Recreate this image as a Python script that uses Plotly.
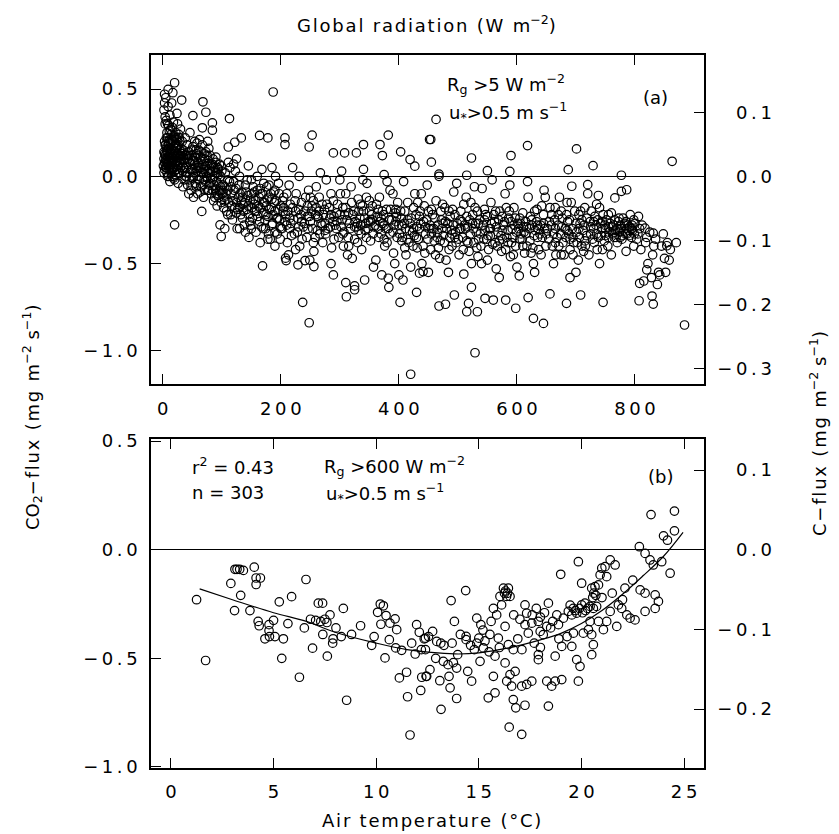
import plotly.graph_objects as go

# ---------------- DATA ----------------
# Panel (a): global radiation (W m-2) vs CO2 flux (mg m-2 s-1), grouped by radiation range
seg_0_30 = [
    (3, 0.08), (4, 0.12), (5, 0.05), (5, 0.18), (6, 0.1), (6, 0.32), (7, 0.02), (7, 0.14), (8, 0.22), (8, 0.07),
    (9, 0.4), (9, 0.11), (10, 0.16), (10, 0.0), (11, 0.26), (11, 0.09), (12, 0.13), (12, 0.35), (13, 0.06), (13, 0.19),
    (14, 0.24), (14, 0.1), (15, 0.03), (15, 0.15), (16, 0.28), (16, 0.08), (17, 0.12), (17, 0.2), (18, 0.05), (18, 0.17),
    (19, 0.23), (19, 0.1), (20, 0.14), (20, -0.02), (21, 0.19), (21, 0.07), (22, 0.25), (22, 0.12), (23, 0.04), (23, 0.16),
    (24, 0.21), (24, 0.09), (25, 0.13), (25, 0.3), (26, 0.06), (26, 0.18), (27, 0.1), (27, 0.24), (28, 0.02), (28, 0.15),
    (29, 0.2), (29, 0.08), (30, 0.12), (30, 0.27), (2, 0.1), (2, 0.14), (3, 0.2), (3, 0.04), (4, 0.3), (4, 0.07),
    (2, 0.38), (3, 0.42), (4, 0.34), (5, 0.45), (6, 0.22), (8, 0.3), (10, 0.29), (12, 0.05), (15, 0.42), (18, 0.31),
    (24, 0.36), (12, -0.03), (20, 0.03), (7, 0.08), (9, 0.06), (11, 0.12), (13, 0.1), (14, 0.02), (16, 0.0), (18, -0.01),
    (22, 0.01), (26, -0.04), (28, 0.08), (6, 0.05), (8, 0.15), (3, 0.13), (5, 0.09), (7, 0.17), (9, 0.2), (11, 0.04),
    (13, 0.27), (15, 0.08), (17, 0.04), (19, 0.15), (21, 0.11), (23, 0.22), (25, 0.06), (27, 0.02), (29, 0.12),
    (1, 0.06), (2, 0.02), (4, 0.18), (6, 0.15), (8, 0.0), (10, 0.08), (12, 0.21), (14, 0.16), (16, 0.13), (18, 0.09),
    (20, 0.22), (22, 0.18), (24, 0.04), (26, 0.12), (28, 0.22), (30, 0.05), (5, 0.12), (7, 0.25), (10, 0.19), (13, 0.14),
    (16, 0.21), (19, 0.05), (22, 0.08), (25, 0.17), (28, 0.11),
]
seg_30_100 = [
    (32, 0.1), (33, 0.2), (34, 0.03), (35, 0.15), (36, -0.02), (37, 0.08), (38, 0.22), (39, 0.12), (40, 0.05), (41, 0.18),
    (42, -0.05), (43, 0.1), (44, 0.14), (45, 0.02), (46, 0.25), (47, 0.07), (48, -0.08), (49, 0.12), (50, 0.04), (51, 0.17),
    (52, 0.0), (53, 0.09), (54, 0.2), (55, -0.04), (56, 0.06), (57, 0.13), (58, 0.03), (59, -0.1), (60, 0.08), (61, 0.15),
    (62, -0.02), (63, 0.05), (64, 0.11), (65, -0.06), (66, 0.02), (67, 0.18), (68, 0.07), (69, -0.12), (70, 0.04), (71, 0.1),
    (72, -0.03), (73, 0.14), (74, 0.0), (75, 0.06), (76, -0.08), (77, 0.09), (78, 0.02), (79, -0.05), (80, 0.12), (81, 0.03),
    (82, -0.1), (83, 0.06), (84, -0.02), (85, 0.1), (86, -0.14), (87, 0.0), (88, 0.05), (89, -0.07), (90, 0.08), (91, -0.03),
    (92, 0.02), (93, -0.11), (94, 0.04), (95, -0.05), (96, 0.07), (97, -0.09), (98, 0.0), (99, -0.15), (100, 0.03),
    (35, 0.05), (40, 0.12), (45, -0.02), (50, 0.09), (55, 0.11), (60, 0.0), (65, 0.05), (70, 0.13), (75, -0.01), (80, -0.04),
    (85, 0.03), (90, -0.1), (95, 0.01), (38, 0.0), (48, 0.15), (58, 0.19), (68, -0.05), (78, 0.16), (88, -0.12), (98, -0.06),
    (33, 0.13), (36, 0.09), (39, 0.02), (42, 0.12), (45, 0.08), (48, 0.04), (51, -0.01), (54, 0.07), (57, -0.06), (60, 0.12),
    (63, -0.09), (66, 0.1), (69, 0.02), (72, 0.06), (75, 0.12), (78, -0.08), (81, -0.01), (84, 0.07), (87, -0.05), (90, 0.02),
    (93, 0.05), (96, -0.08), (99, 0.06), (44, -0.1), (62, 0.21), (52, -0.12), (76, 0.2), (92, -0.17), (34, -0.06), (56, 0.15),
    (71, -0.08), (31, 0.16), (35, 0.1), (40, 0.0), (45, 0.12), (50, -0.05), (55, 0.02), (60, 0.05), (65, 0.14), (70, -0.02),
    (75, 0.03), (80, 0.07), (85, -0.08), (90, 0.11), (95, -0.12), (100, -0.08),
]
seg_100_200 = [
    (102, -0.05), (104, -0.12), (106, 0.02), (108, -0.2), (110, -0.08), (112, -0.15), (114, 0.05), (116, -0.1), (118, -0.25),
    (120, -0.03), (122, -0.18), (124, -0.07), (126, -0.3), (128, -0.12), (130, 0.0), (132, -0.22), (134, -0.09), (136, -0.16),
    (138, -0.28), (140, -0.05), (142, -0.19), (144, -0.11), (146, -0.35), (148, -0.14), (150, -0.02), (152, -0.24), (154, -0.13),
    (156, -0.2), (158, -0.32), (160, -0.08), (162, -0.17), (164, -0.26), (166, -0.1), (168, 0.04), (170, -0.21), (172, -0.15),
    (174, -0.3), (176, -0.06), (178, -0.23), (180, -0.12), (182, -0.36), (184, -0.18), (186, -0.27), (188, -0.09), (190, -0.2),
    (192, -0.14), (194, -0.33), (196, -0.04), (198, -0.25), (200, -0.17), (103, -0.18), (107, -0.1), (111, 0.08), (115, -0.22),
    (119, -0.14), (123, 0.03), (127, -0.19), (131, -0.1), (135, -0.24), (139, -0.15), (143, -0.02), (147, -0.26), (151, -0.18),
    (155, -0.09), (159, -0.2), (163, -0.12), (167, -0.29), (171, -0.04), (175, -0.17), (179, -0.33), (183, -0.1), (187, -0.22),
    (191, 0.0), (195, -0.19), (199, -0.29), (105, -0.3), (125, 0.1), (145, 0.06), (165, -0.38), (185, 0.05),
    (101, -0.1), (105, -0.06), (109, -0.13), (113, -0.03), (117, -0.17), (121, -0.08), (125, -0.21), (129, -0.05),
    (133, -0.14), (137, -0.2), (141, -0.09), (145, -0.17), (149, -0.28), (153, -0.06), (157, -0.14), (161, -0.23),
    (165, -0.18), (169, -0.1), (173, -0.25), (177, -0.13), (181, -0.19), (185, -0.28), (189, -0.15), (193, -0.24),
    (197, -0.1), (110, -0.22), (130, -0.3), (150, -0.1), (170, -0.3), (190, -0.32), (120, 0.07), (140, -0.32), (160, 0.0),
    (180, -0.05), (200, -0.3), (105, -0.14), (115, -0.06), (125, -0.15), (135, -0.12), (145, -0.22), (155, -0.16),
    (165, -0.07), (175, -0.22), (185, -0.13), (195, -0.24), (110, -0.02), (130, -0.18), (150, -0.3), (170, -0.15),
    (190, -0.08),
]
seg_200_400 = [
    (202, -0.3), (205, -0.12), (208, -0.22), (211, -0.38), (214, -0.05), (217, -0.27), (220, -0.18), (223, -0.33), (226, -0.1),
    (229, -0.24), (232, -0.4), (235, -0.15), (238, -0.29), (241, -0.2), (244, -0.35), (247, -0.08), (250, -0.26), (253, -0.17),
    (256, -0.43), (259, -0.22), (262, -0.31), (265, -0.12), (268, -0.27), (271, -0.38), (274, -0.19), (277, -0.02), (280, -0.3),
    (283, -0.24), (286, -0.41), (289, -0.14), (292, -0.28), (295, -0.21), (298, -0.35), (301, -0.1), (304, -0.25), (307, -0.32),
    (310, -0.18), (313, -0.45), (316, -0.27), (319, -0.06), (322, -0.22), (325, -0.36), (328, -0.29), (331, -0.13), (334, -0.24),
    (337, -0.42), (340, -0.2), (343, -0.31), (346, -0.04), (349, -0.26), (352, -0.37), (355, -0.17), (358, -0.29), (361, -0.48),
    (364, -0.23), (367, -0.12), (370, -0.33), (373, -0.27), (376, -0.4), (379, -0.19), (382, -0.3), (385, -0.08), (388, -0.25),
    (391, -0.44), (394, -0.21), (397, -0.35), (400, -0.28), (204, -0.2), (210, -0.28), (216, -0.16), (222, -0.25), (228, -0.32),
    (234, -0.22), (240, -0.27), (246, -0.3), (252, -0.2), (258, -0.35), (264, -0.24), (270, -0.28), (276, -0.33), (282, -0.18),
    (288, -0.26), (294, -0.3), (300, -0.22), (306, -0.4), (312, -0.25), (318, -0.3), (324, -0.2), (330, -0.27), (336, -0.33),
    (342, -0.24), (348, -0.3), (354, -0.22), (360, -0.28), (366, -0.35), (372, -0.2), (378, -0.3), (384, -0.25), (390, -0.32),
    (396, -0.23), (213, -0.45), (231, 0.0), (249, -0.48), (267, 0.02), (285, -0.5), (303, 0.03), (321, -0.47), (339, -0.02),
    (357, -0.52), (375, 0.01), (393, -0.5), (260, -0.06), (300, -0.02), (340, 0.04), (380, -0.03), (220, 0.05),
    (203, -0.14), (207, -0.26), (212, -0.2), (218, -0.34), (224, -0.14), (230, -0.19), (236, -0.36), (242, -0.12),
    (248, -0.23), (254, -0.3), (260, -0.18), (266, -0.33), (272, -0.22), (278, -0.16), (284, -0.29), (290, -0.36),
    (296, -0.16), (302, -0.29), (308, -0.22), (314, -0.35), (320, -0.15), (326, -0.26), (332, -0.31), (338, -0.17),
    (344, -0.27), (350, -0.2), (356, -0.33), (362, -0.16), (368, -0.26), (374, -0.22), (380, -0.38), (386, -0.19),
    (392, -0.28), (398, -0.15), (215, -0.24), (245, -0.17), (275, -0.27), (305, -0.18), (335, -0.28), (365, -0.3),
    (395, -0.26), (225, -0.42), (255, -0.38), (285, -0.1), (315, -0.4), (345, -0.12), (375, -0.36), (262, -0.23),
    (332, -0.2), (352, -0.26), (205, -0.18), (215, -0.3), (225, -0.2), (235, -0.26), (245, -0.23), (255, -0.14),
    (265, -0.2), (275, -0.31), (285, -0.22), (295, -0.26), (305, -0.33), (315, -0.21), (325, -0.29), (335, -0.16),
    (345, -0.35), (355, -0.25), (365, -0.19), (375, -0.28), (385, -0.33), (395, -0.19), (210, -0.1), (230, -0.29),
    (250, -0.12), (270, -0.16), (290, -0.23), (310, -0.1), (330, -0.38), (350, -0.14), (370, -0.24), (390, -0.1),
]
seg_400_650 = [
    (403, -0.2), (406, -0.35), (409, -0.27), (412, -0.45), (415, -0.15), (418, -0.31), (421, -0.24), (424, -0.4), (427, -0.1),
    (430, -0.29), (433, -0.36), (436, -0.2), (439, -0.5), (442, -0.26), (445, -0.33), (448, -0.05), (451, -0.3), (454, -0.42),
    (457, -0.22), (460, -0.37), (463, -0.14), (466, -0.28), (469, -0.47), (472, -0.25), (475, -0.34), (478, -0.18), (481, -0.3),
    (484, -0.55), (487, -0.23), (490, -0.4), (493, -0.09), (496, -0.32), (499, -0.27), (502, -0.45), (505, -0.2), (508, -0.35),
    (511, -0.28), (514, -0.12), (517, -0.38), (520, -0.25), (523, -0.5), (526, -0.3), (529, -0.18), (532, -0.41), (535, -0.27),
    (538, -0.33), (541, -0.07), (544, -0.36), (547, -0.22), (550, -0.48), (553, -0.3), (556, -0.15), (559, -0.39), (562, -0.26),
    (565, -0.53), (568, -0.32), (571, -0.2), (574, -0.43), (577, -0.28), (580, -0.1), (583, -0.35), (586, -0.24), (589, -0.46),
    (592, -0.3), (595, -0.18), (598, -0.4), (601, -0.27), (604, -0.57), (607, -0.33), (610, -0.21), (613, -0.44), (616, -0.29),
    (619, -0.12), (622, -0.37), (625, -0.25), (628, -0.5), (631, -0.31), (634, -0.19), (637, -0.42), (640, -0.28), (643, -0.35),
    (646, -0.08), (649, -0.4), (405, -0.28), (411, -0.3), (417, -0.38), (423, -0.32), (429, -0.22), (435, -0.3), (441, -0.4),
    (447, -0.25), (453, -0.28), (459, -0.3), (465, -0.35), (471, -0.2), (477, -0.38), (483, -0.27), (489, -0.31), (495, -0.22),
    (501, -0.36), (507, -0.26), (513, -0.3), (519, -0.43), (525, -0.22), (531, -0.32), (537, -0.25), (543, -0.28), (549, -0.36),
    (555, -0.3), (561, -0.22), (567, -0.4), (573, -0.34), (579, -0.26), (585, -0.31), (591, -0.38), (597, -0.24), (603, -0.3),
    (609, -0.36), (615, -0.26), (621, -0.3), (627, -0.41), (633, -0.26), (639, -0.33), (645, -0.22), (408, -0.03), (438, -0.1),
    (468, 0.0), (498, -0.04), (528, -0.06), (558, -0.02), (588, -0.05), (618, -0.03), (648, -0.12), (420, -0.52), (450, -0.55),
    (480, -0.48), (510, -0.56), (540, -0.5), (570, -0.58), (600, -0.52), (630, -0.55), (426, -0.34), (456, -0.3), (486, -0.35),
    (516, -0.29), (546, -0.31), (576, -0.36), (606, -0.27), (636, -0.3),
    (401, -0.33), (404, -0.24), (410, -0.2), (414, -0.36), (419, -0.27), (425, -0.18), (431, -0.41), (437, -0.27),
    (443, -0.17), (449, -0.36), (455, -0.33), (461, -0.24), (467, -0.41), (473, -0.3), (479, -0.26), (485, -0.42),
    (491, -0.19), (497, -0.38), (503, -0.3), (509, -0.42), (515, -0.23), (521, -0.33), (527, -0.38), (533, -0.2),
    (539, -0.4), (545, -0.25), (551, -0.34), (557, -0.27), (563, -0.38), (569, -0.25), (575, -0.31), (581, -0.42),
    (587, -0.2), (593, -0.35), (599, -0.32), (605, -0.24), (611, -0.29), (617, -0.4), (623, -0.23), (629, -0.34),
    (635, -0.28), (641, -0.45), (647, -0.3), (432, -0.15), (462, -0.45), (492, -0.28), (522, -0.15), (552, -0.42),
    (582, -0.18), (612, -0.32), (642, -0.17), (444, -0.44), (474, -0.16), (504, -0.25), (534, -0.46), (564, -0.2),
    (594, -0.45), (624, -0.44), (405, -0.37), (415, -0.25), (425, -0.3), (435, -0.23), (445, -0.29), (455, -0.19),
    (465, -0.32), (475, -0.27), (485, -0.2), (495, -0.35), (505, -0.3), (515, -0.37), (525, -0.27), (535, -0.36),
    (545, -0.19), (555, -0.34), (565, -0.29), (575, -0.23), (585, -0.38), (595, -0.28), (605, -0.36), (615, -0.33),
    (625, -0.28), (635, -0.35), (645, -0.27), (410, -0.41), (430, -0.35), (450, -0.2), (470, -0.37), (490, -0.33),
    (510, -0.16), (530, -0.27), (550, -0.23), (570, -0.37), (590, -0.26), (610, -0.4), (630, -0.2), (650, -0.33),
]
seg_650_900 = [
    (652, -0.3), (656, -0.18), (660, -0.4), (664, -0.25), (668, -0.35), (672, -0.12), (676, -0.29), (680, -0.45), (684, -0.22),
    (688, -0.33), (692, -0.15), (696, -0.38), (700, -0.27), (704, -0.48), (708, -0.2), (712, -0.31), (716, -0.4), (720, -0.1),
    (724, -0.26), (728, -0.36), (732, -0.23), (736, -0.42), (740, -0.18), (744, -0.3), (748, -0.37), (752, -0.25), (756, -0.32),
    (760, -0.21), (764, -0.28), (768, -0.35), (772, -0.26), (776, -0.3), (780, -0.24), (784, -0.33), (788, -0.28), (792, -0.22),
    (796, -0.31), (800, -0.27), (658, -0.28), (666, -0.45), (674, -0.33), (682, -0.3), (690, -0.42), (698, -0.2), (706, -0.35),
    (714, -0.28), (722, -0.45), (730, -0.3), (738, -0.35), (746, -0.22), (754, -0.4), (762, -0.33), (770, -0.3), (778, -0.36),
    (786, -0.3), (794, -0.35), (798, -0.25), (766, -0.25), (774, -0.32), (782, -0.28), (790, -0.34), (758, -0.27), (750, -0.3),
    (742, -0.27), (726, -0.2), (710, -0.25), (694, -0.3), (678, -0.38), (662, -0.33), (670, -0.22), (686, -0.26), (702, -0.38),
    (718, -0.34), (734, -0.28), (662, -0.5), (700, -0.55), (740, -0.5), (690, -0.58), (760, -0.45), (785, -0.43), (798, -0.4),
    (805, -0.33), (810, -0.42), (812, -0.28), (818, -0.38), (822, -0.5), (825, -0.32), (830, -0.45), (835, -0.36), (840, -0.55),
    (845, -0.4), (850, -0.47), (855, -0.38), (860, -0.42), (870, -0.38), (815, -0.6), (828, -0.58), (838, -0.62),
    (654, -0.36), (659, -0.22), (665, -0.3), (671, -0.4), (677, -0.24), (683, -0.35), (689, -0.25), (695, -0.45),
    (701, -0.32), (707, -0.27), (713, -0.43), (719, -0.24), (725, -0.33), (731, -0.38), (737, -0.25), (743, -0.34),
    (749, -0.28), (755, -0.35), (761, -0.29), (767, -0.31), (773, -0.24), (779, -0.34), (783, -0.27), (787, -0.33),
    (791, -0.29), (795, -0.28), (799, -0.33), (775, -0.28), (765, -0.35), (755, -0.22), (745, -0.42), (735, -0.16),
    (715, -0.18), (705, -0.22), (685, -0.15), (675, -0.45), (665, -0.18), (803, -0.36), (808, -0.3), (820, -0.35),
    (832, -0.4), (848, -0.33), (858, -0.48), (852, -0.55), (655, -0.26), (665, -0.38), (675, -0.2), (685, -0.31),
    (695, -0.35), (705, -0.3), (715, -0.37), (725, -0.29), (735, -0.33), (745, -0.26), (755, -0.29), (765, -0.32),
    (775, -0.35), (785, -0.26), (795, -0.3), (670, -0.28), (690, -0.36), (710, -0.4), (730, -0.26), (750, -0.34),
    (770, -0.38), (790, -0.31),
]
outliers_a = [
    (20, 0.536), (9, 0.498), (17, 0.479), (3, 0.47), (32, 0.437), (68, 0.427), (187, 0.483), (73, 0.367), (51, 0.348),
    (113, 0.331), (84, 0.306), (84, 0.264), (67, 0.278), (133, 0.22), (122, 0.195), (111, 0.168), (164, 0.234), (178, 0.22),
    (207, 0.22), (253, 0.236), (248, 0.168), (207, 0.182), (289, 0.134), (308, 0.134), (328, 0.134), (340, 0.182), (368, 0.182),
    (382, 0.236), (372, 0.119), (403, 0.14), (419, 0.096), (427, 0.058), (452, 0.211), (20, -0.278), (66, -0.201), (97, -0.278),
    (99, -0.345), (169, -0.513), (208, -0.469), (209, -0.483), (229, -0.507), (241, -0.483), (256, -0.517), (190, -0.4),
    (199, -0.36), (178, -0.36), (237, -0.722), (248, -0.839), (289, -0.565), (310, -0.609), (325, -0.628), (311, -0.69),
    (325, -0.65), (342, -0.594), (371, -0.565), (382, -0.584), (383, -0.636), (400, -0.565), (407, -0.594), (402, -0.722),
    (430, -0.665), (420, -1.134), (435, -0.555), (441, -0.546), (463, 0.326), (454, 0.211), (455, 0.081), (523, 0.105),
    (590, 0.119), (618, 0.176), (701, 0.157), (729, 0.061), (687, 0.038), (863, 0.086), (550, 0.032), (588, 0.028),
    (515, 0.006), (468, 0.012), (777, 0.006), (720, -0.048), (693, -0.057), (786, -0.077), (777, -0.086), (766, -0.124),
    (738, -0.11), (806, -0.23), (645, -0.843), (628, -0.814), (529, -1.011), (884, -0.852), (468, -0.743), (479, -0.733),
    (518, -0.728), (515, -0.776), (533, -0.776), (494, -0.68), (523, -0.636), (546, -0.699), (560, -0.709), (581, -0.709),
    (598, -0.756), (619, -0.695), (656, -0.674), (684, -0.728), (708, -0.68), (746, -0.722), (807, -0.713), (831, -0.732),
    (829, -0.686), (842, -0.565), (854, -0.398), (831, -0.326), (817, -0.297), (820, -0.536), (808, -0.613),
]

# Panel (b): air temperature (degC) vs CO2 flux, Rg > 600 W m-2
panel_b_points = [
    (1.25, -0.23), (1.69, -0.51), (3.12, -0.09), (3.22, -0.09), (3.35, -0.09), (3.53, -0.095), (2.92, -0.155), (4.06, -0.08),
    (4.15, -0.13), (4.36, -0.13), (4.15, -0.16), (3.4, -0.21), (3.1, -0.28), (3.85, -0.28), (4.25, -0.33), (4.3, -0.35),
    (4.78, -0.345), (4.78, -0.373), (5.0, -0.325), (4.8, -0.40), (4.58, -0.41), (5.07, -0.40), (5.48, -0.41), (5.4, -0.50),
    (5.28, -0.24), (5.88, -0.216), (6.58, -0.137), (6.26, -0.587), (6.9, -0.453), (7.18, -0.246), (7.39, -0.246), (6.8, -0.32),
    (7.05, -0.325), (7.3, -0.33), (7.5, -0.32), (7.75, -0.30), (7.6, -0.335), (7.4, -0.39), (7.9, -0.41), (7.88, -0.43),
    (7.62, -0.49), (8.04, -0.36), (8.4, -0.27), (8.56, -0.693), (8.8, -0.39), (9.24, -0.35), (9.78, -0.44), (10.35, -0.258),
    (10.07, -0.288), (10.48, -0.303), (10.23, -0.343), (10.92, -0.318), (10.67, -0.338), (11.0, -0.368), (10.64, -0.414),
    (10.95, -0.452), (10.43, -0.498), (11.24, -0.463), (11.97, -0.345), (11.73, -0.43), (11.48, -0.564), (11.13, -0.59),
    (12.22, -0.587), (12.43, -0.583), (12.17, -0.648), (11.53, -0.677), (11.65, -0.853), (12.34, -0.41), (12.2, -0.46),
    (12.4, -0.407), (12.55, -0.40), (12.75, -0.376), (12.95, -0.422), (13.15, -0.43), (12.4, -0.46), (12.62, -0.552),
    (12.46, -0.583), (13.1, -0.603), (13.55, -0.583), (13.6, -0.636), (13.92, -0.685), (13.16, -0.735), (13.27, -0.514),
    (13.5, -0.529), (13.76, -0.52), (13.92, -0.545), (13.97, -0.483), (13.65, -0.234), (13.81, -0.33), (14.36, -0.188),
    (14.38, -0.399), (14.38, -0.414), (14.78, -0.46), (14.9, -0.315), (15.1, -0.345), (15.0, -0.407), (15.06, -0.514),
    (15.22, -0.452), (14.65, -0.605), (14.46, -0.56), (15.46, -0.682), (15.79, -0.659), (15.71, -0.583), (15.79, -0.49),
    (15.54, -0.39), (15.71, -0.27), (15.87, -0.30), (16.03, -0.215), (16.2, -0.177), (16.44, -0.177), (16.52, -0.215),
    (16.11, -0.254), (15.95, -0.407), (16.28, -0.353), (16.44, -0.437), (16.68, -0.46), (16.28, -0.521), (16.36, -0.605),
    (16.52, -0.575), (16.6, -0.628), (16.77, -0.56), (16.68, -0.69), (16.8, -0.728), (16.48, -0.817), (17.09, -0.85),
    (17.25, -0.716), (17.09, -0.628), (17.33, -0.62), (17.58, -0.605), (17.25, -0.254), (17.33, -0.292), (17.25, -0.345),
    (17.41, -0.384), (17.58, -0.338), (17.9, -0.33), (17.99, -0.376), (18.14, -0.391), (18.31, -0.353), (18.39, -0.246),
    (17.9, -0.483), (17.9, -0.506), (18.31, -0.605), (18.55, -0.628), (18.72, -0.605), (19.04, -0.598), (18.39, -0.72),
    (18.72, -0.49), (19.04, -0.445), (18.88, -0.345), (18.8, -0.30), (19.12, -0.315), (19.36, -0.284), (19.53, -0.30),
    (19.77, -0.292), (19.61, -0.384), (19.53, -0.445), (19.77, -0.506), (19.93, -0.537), (19.85, -0.605), (20.09, -0.384),
    (20.01, -0.254), (20.17, -0.246), (20.42, -0.261), (20.58, -0.27), (20.74, -0.261), (19.85, -0.055), (20.01, -0.154),
    (20.5, -0.177), (20.66, -0.17), (20.83, -0.162), (20.91, -0.116), (20.99, -0.085), (21.15, -0.078), (21.4, -0.047),
    (21.64, -0.07), (21.23, -0.124), (20.42, -0.33), (20.34, -0.368), (20.5, -0.391), (20.58, -0.437), (20.5, -0.483),
    (20.83, -0.33), (21.07, -0.368), (21.23, -0.33), (21.4, -0.284), (21.72, -0.353), (21.8, -0.254), (21.96, -0.27),
    (22.21, -0.3), (22.37, -0.315), (22.61, -0.323), (22.12, -0.177), (22.86, -0.185), (23.1, -0.2), (23.59, -0.208),
    (23.75, -0.238), (23.59, -0.27), (23.1, -0.284), (22.82, 0.014), (23.1, -0.017), (23.34, -0.047), (23.5, -0.07),
    (23.91, -0.055), (24.32, -0.108), (24.0, 0.064), (24.19, 0.044), (24.53, 0.087), (23.39, 0.162), (24.53, 0.178),
    (18.99, -0.113), (19.6, -0.27), (19.7, -0.28), (19.9, -0.27), (20.05, -0.29), (20.2, -0.28), (20.3, -0.27), (19.45, -0.255),
    (20.6, -0.2), (20.7, -0.21), (20.55, -0.22), (16.3, -0.19), (16.4, -0.2), (16.35, -0.215), (16.25, -0.2), (17.6, -0.3),
    (17.8, -0.27), (18.0, -0.31), (18.2, -0.29), (18.6, -0.33), (18.5, -0.36), (14.6, -0.44), (14.9, -0.43), (15.3, -0.42),
    (15.5, -0.47), (16.0, -0.45), (16.9, -0.41), (17.1, -0.46), (17.7, -0.43), (18.0, -0.45), (18.9, -0.41), (19.3, -0.4),
    (13.3, -0.44), (13.7, -0.43), (12.9, -0.5), (11.9, -0.48), (12.1, -0.38), (10.2, -0.25), (9.9, -0.4), (8.3, -0.4),
    (6.5, -0.36), (5.7, -0.34), (22.0, -0.23), (22.5, -0.14), (21.5, -0.2), (21.0, -0.22), (15.2, -0.37), (15.6, -0.33),
    (17.0, -0.32), (16.7, -0.3), (14.1, -0.39),
]
# Fitted curve in panel (b)
fit_temp = [1.4, 3, 5, 6.6, 8, 10, 11.5, 13, 14, 15, 16, 17, 18, 19, 20, 21, 22, 23, 24, 24.95]
fit_flux = [-0.18, -0.23, -0.29, -0.33, -0.38, -0.43, -0.46, -0.475, -0.48, -0.475, -0.46, -0.44, -0.415,
            -0.385, -0.34, -0.28, -0.205, -0.12, -0.03, 0.08]

# Axis ticks
rad_ticks = [0, 200, 400, 600, 800]
temp_ticks = [0, 5, 10, 15, 20, 25]
co2_ticks = [0.5, 0.0, -0.5, -1.0]
c_ticks_a = [0.1, 0.0, -0.1, -0.2, -0.3]
c_ticks_b = [0.1, 0.0, -0.1, -0.2]
C_PER_CO2 = 12.0 / 44.0

# ---------------- FIGURE ----------------
def unzip(*groups):
    xs, ys = [], []
    for g in groups:
        for x, y in g:
            xs.append(x)
            ys.append(y)
    return xs, ys

rad, flux_a = unzip(seg_0_30, seg_30_100, seg_100_200, seg_200_400, seg_400_650, seg_650_900, outliers_a)
temp, flux_b = unzip(panel_b_points)

FONT = "DejaVu Sans"
TS = "\u2009"   # thin space (tick label letter spacing)
HS = "\u200a"   # hair space (title letter spacing)
NB = "\u00a0"

def spaced(v, dec):
    s = f"{abs(v):.{dec}f}"
    s = TS.join(s)
    return ("\u2212" + TS + s) if v < 0 else s

def right_label(v, dec):
    s = spaced(v, dec)
    if v >= 0:
        s = "<span style='color:rgba(0,0,0,0)'>\u2212" + TS + "</span>" + s
    return s

def hs(s):
    return HS.join(s.replace(" ", NB))

# page geometry (browser body has an 8px margin)
OFF = 8
PAGE_W, PAGE_H = 839, 834
W, H = PAGE_W - OFF, PAGE_H - OFF
PL, PR, PT, PB = 151, 704, 55, 768          # plot frame, page px
TOP_BOTTOM, BOT_TOP = 384, 439
ph = PB - PT
dom_a = [(PB - TOP_BOTTOM) / ph, 1.0]
dom_b = [0.0, (PB - BOT_TOP) / ph]

def px(xp):
    return (xp - PL) / (PR - PL)

def py(yp):
    return (PB - yp) / ph

marker = dict(symbol="circle-open", size=8.5, color="black", line=dict(width=1.2, color="black"))

fig = go.Figure()
fig.add_trace(go.Scatter(x=rad, y=flux_a, mode="markers", marker=marker, xaxis="x", yaxis="y",
                         showlegend=False, hoverinfo="skip"))
fig.add_trace(go.Scatter(x=temp, y=flux_b, mode="markers", marker=marker, xaxis="x2", yaxis="y2",
                         showlegend=False, hoverinfo="skip"))
fig.add_trace(go.Scatter(x=fit_temp, y=fit_flux, mode="lines", line=dict(color="black", width=1.2, shape="spline"),
                         xaxis="x2", yaxis="y2", showlegend=False, hoverinfo="skip"))
fig.add_trace(go.Scatter(x=[None], y=[None], xaxis="x", yaxis="y3", showlegend=False, hoverinfo="skip"))
fig.add_trace(go.Scatter(x=[None], y=[None], xaxis="x2", yaxis="y4", showlegend=False, hoverinfo="skip"))

tickfont = dict(family=FONT, size=18, color="black")
common = dict(showgrid=False, ticks="inside", ticklen=10, tickwidth=1.2, tickcolor="black",
              showline=True, linecolor="black", linewidth=1.5, tickfont=tickfont)

ya_range = [-1.19, 0.695]
yb_range = [-1.005, 0.51]

fig.update_layout(
    width=W, height=H, autosize=False,
    margin=dict(l=PL - OFF, r=PAGE_W - PR, t=PT - OFF, b=PAGE_H - PB, pad=0),
    paper_bgcolor="white", plot_bgcolor="white",
    xaxis=dict(domain=[0, 1], anchor="y", range=[-20, 917], tickvals=rad_ticks,
               ticktext=[spaced(v, 0) for v in rad_ticks], mirror="ticks", zeroline=False,
               ticklabelstandoff=8, **common),
    yaxis=dict(domain=dom_a, anchor="x", range=ya_range, tickvals=co2_ticks,
               ticktext=[spaced(v, 1) for v in co2_ticks], mirror=False, zeroline=True,
               zerolinecolor="black", zerolinewidth=1.2, ticklabelstandoff=8, **common),
    yaxis3=dict(overlaying="y", anchor="x", side="right", range=[r * C_PER_CO2 for r in ya_range],
                tickvals=c_ticks_a, ticktext=[right_label(v, 1) for v in c_ticks_a], zeroline=False,
                ticklabelstandoff=8, **common),
    xaxis2=dict(domain=[0, 1], anchor="y2", range=[-0.97, 25.97], tickvals=temp_ticks,
                ticktext=[spaced(v, 0) for v in temp_ticks], mirror="ticks", zeroline=False,
                ticklabelstandoff=7, **common),
    yaxis2=dict(domain=dom_b, anchor="x2", range=yb_range, tickvals=co2_ticks,
                ticktext=[spaced(v, 1) for v in co2_ticks], mirror=False, zeroline=True,
                zerolinecolor="black", zerolinewidth=1.2, ticklabelstandoff=8, **common),
    yaxis4=dict(overlaying="y2", anchor="x2", side="right", range=[r * C_PER_CO2 for r in yb_range],
                tickvals=c_ticks_b, ticktext=[right_label(v, 1) for v in c_ticks_b], zeroline=False,
                ticklabelstandoff=8, **common),
)

def ann(text, x, y, xanchor="left", yanchor="middle", textangle=0, size=18):
    fig.add_annotation(text=text, x=px(x), y=py(y), xref="paper", yref="paper", xanchor=xanchor,
                       yanchor=yanchor, showarrow=False, textangle=textangle,
                       font=dict(family=FONT, size=size, color="black"))

# axis titles
ann(hs("Global radiation (W m") + "<sup>\u22122</sup>" + ")", 426, 24, xanchor="center")
ann(hs("Air temperature (\u00b0C)"), 431, 821, xanchor="center")
ann("CO<sub>2</sub>" + hs("\u2212flux (mg m") + "<sup>\u22122</sup>" + NB + "s<sup>\u22121</sup>)",
    32, 418, xanchor="center", textangle=-90)
ann(hs("C\u2212flux (mg m") + "<sup>\u22122</sup>" + NB + "s<sup>\u22121</sup>)",
    818, 434, xanchor="center", textangle=-90)

# panel (a) notes
ann("R<sub>g</sub>" + NB + ">5" + NB + "W" + NB + "m<sup>\u22122</sup>", 445, 84)
ann("u<sub>*</sub>>0.5" + NB + "m" + NB + "s<sup>\u22121</sup>", 447, 112)
ann("(a)", 655, 98, xanchor="center")

# panel (b) notes
ann("r<sup>2</sup>" + NB + "=" + NB + "0.43", 190, 466)
ann("n" + NB + "=" + NB + "303", 190, 492)
ann("R<sub>g</sub>" + NB + ">600" + NB + "W" + NB + "m<sup>\u22122</sup>", 322, 466)
ann("u<sub>*</sub>>0.5" + NB + "m" + NB + "s<sup>\u22121</sup>", 324, 493)
ann("(b)", 660, 476, xanchor="center")

fig.write_html("out.html")
